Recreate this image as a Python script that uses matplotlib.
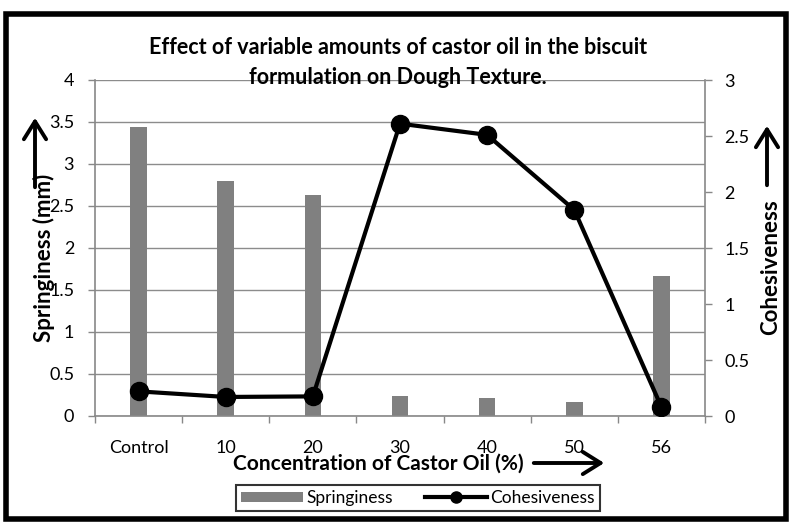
import matplotlib
matplotlib.use("Agg")
import matplotlib.pyplot as plt
from matplotlib.patches import Rectangle, Patch, FancyArrowPatch
from matplotlib.lines import Line2D
import numpy as np

plt.rcParams['font.family'] = ['Lato', 'DejaVu Sans']

categories = ["Control", "10", "20", "30", "40", "50", "56"]
springiness = [3.44, 2.80, 2.63, 0.24, 0.22, 0.17, 1.67]
cohesiveness = [0.22, 0.17, 0.175, 2.61, 2.51, 1.84, 0.08]
left_ticks = [0, 0.5, 1, 1.5, 2, 2.5, 3, 3.5, 4]
right_ticks = [0, 0.5, 1, 1.5, 2, 2.5, 3]

W, H = 792, 523
fig = plt.figure(figsize=(W/100, H/100), dpi=100)
fig.patch.set_facecolor('white')

def fx(px): return px / W
def fy(py): return 1 - py / H

ax = fig.add_axes([fx(95), fy(416), fx(705) - fx(95), fy(80) - fy(416)])
x = np.arange(len(categories))
ax.bar(x, springiness, width=0.19, color='#808080', zorder=2)
ax.set_xlim(-0.5, len(categories) - 0.5)
ax.set_ylim(0, 4)
ax.set_yticks(left_ticks)
ax.set_yticklabels([f"{t:g}" for t in left_ticks], fontsize=13)
ax.set_xticks(x)
ax.set_xticklabels(categories, fontsize=13)
ax.set_xticks(np.arange(-0.5, len(categories)), minor=True)
ax.tick_params(axis='x', which='major', length=0, pad=17)
ax.tick_params(axis='x', which='minor', length=5, color='#888888', width=1, direction='out')
ax.tick_params(axis='y', length=5, color='#888888', width=1, direction='out', pad=10)
ax.grid(axis='y', color='#8c8c8c', linewidth=1.0, zorder=0)
ax.set_axisbelow(True)
for s in ['top', 'right']:
    ax.spines[s].set_visible(False)
for s in ['left', 'bottom']:
    ax.spines[s].set_color('#888888')
    ax.spines[s].set_linewidth(1.2)

ax2 = ax.twinx()
ax2.plot(x, cohesiveness, color='black', linewidth=3, marker='o', markersize=13,
         markerfacecolor='black', markeredgecolor='black', zorder=5)
ax2.set_ylim(0, 3)
ax2.set_yticks(right_ticks)
ax2.set_yticklabels([f"{t:g}" for t in right_ticks], fontsize=13)
ax2.tick_params(axis='y', length=5, color='#888888', width=1, direction='out', pad=9)
for s in ['top', 'left', 'bottom']:
    ax2.spines[s].set_visible(False)
ax2.spines['right'].set_color('#888888')
ax2.spines['right'].set_linewidth(1.2)

# Title
fig.text(fx(398), fy(47), "Effect of variable amounts of castor oil in the biscuit",
         ha='center', va='center', fontsize=15.5, fontweight='bold')
fig.text(fx(398), fy(77), "formulation on Dough Texture.",
         ha='center', va='center', fontsize=15.5, fontweight='bold')

# Axis labels
fig.text(fx(44), fy(258), "Springiness (mm)", rotation=90, ha='center', va='center',
         fontsize=16, fontweight='bold')
fig.text(fx(771), fy(267), "Cohesiveness", rotation=90, ha='center', va='center',
         fontsize=16, fontweight='bold')
fig.text(fx(378), fy(464), "Concentration of Castor Oil (%)", ha='center', va='center',
         fontsize=15, fontweight='bold')

# Arrows
arrow_kw = dict(arrowstyle='->,head_length=0.8,head_width=0.5', color='black', lw=2.8)
fig.add_artist(FancyArrowPatch((fx(35), fy(190)), (fx(35), fy(115)),
               transform=fig.transFigure, mutation_scale=16, **arrow_kw))
fig.add_artist(FancyArrowPatch((fx(767), fy(188)), (fx(767), fy(123)),
               transform=fig.transFigure, mutation_scale=16, **arrow_kw))
fig.add_artist(FancyArrowPatch((fx(531), fy(463)), (fx(607), fy(463)),
               transform=fig.transFigure, mutation_scale=16, **arrow_kw))

# Legend
handles = [Patch(facecolor='#808080', edgecolor='none'),
           Line2D([0], [0], color='black', linewidth=3, marker='o', markersize=8)]
leg = fig.legend(handles, ["Springiness", "Cohesiveness"], loc='center',
                 bbox_to_anchor=(fx(418), fy(498)), ncol=2, frameon=True, fancybox=False,
                 fontsize=12.5, handlelength=3.6, handleheight=0.5, columnspacing=1.8,
                 borderpad=0.3, handletextpad=0.2, borderaxespad=0)
leg.get_frame().set_edgecolor('black')
leg.get_frame().set_linewidth(1.5)

# Outer border
fig.add_artist(Rectangle((fx(6), fy(519)), fx(786) - fx(6), fy(14) - fy(519),
                         transform=fig.transFigure, fill=False, edgecolor='black',
                         linewidth=4))

fig.savefig("out.png", dpi=100)
